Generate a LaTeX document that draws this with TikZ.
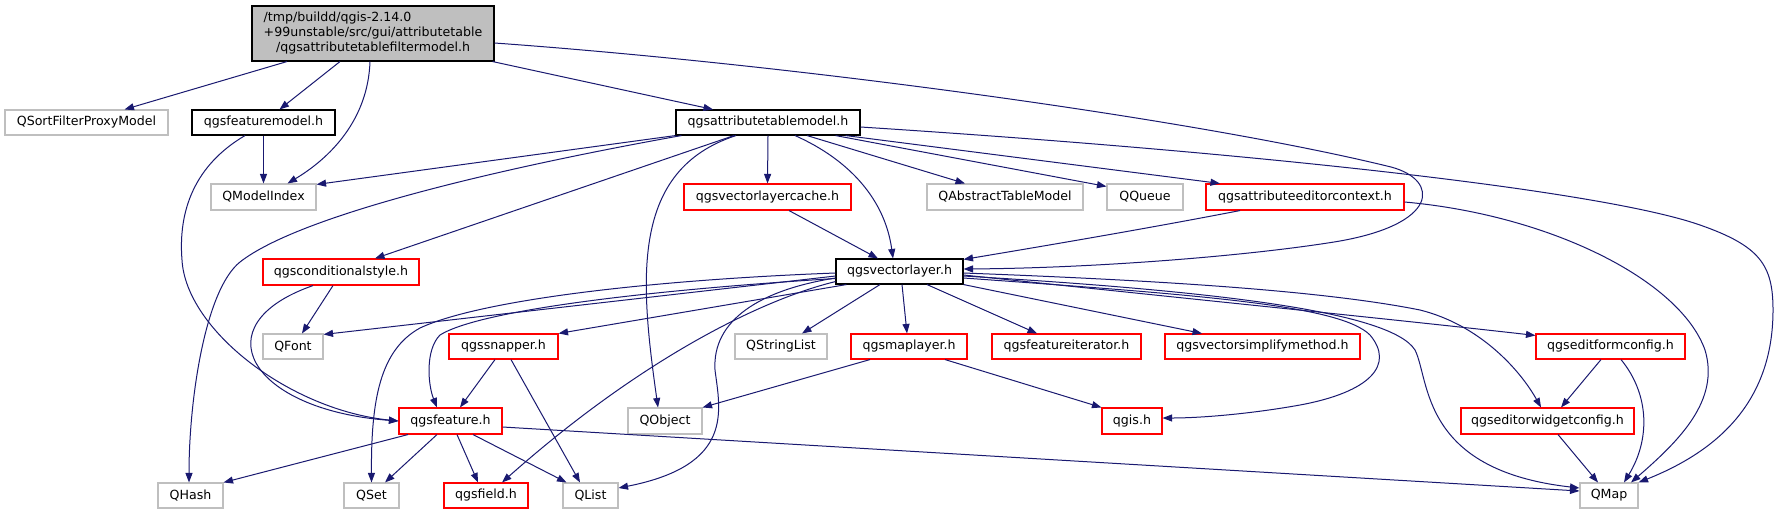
\documentclass[tikz,border=0pt]{standalone}
\usepackage{fontspec}
\setmainfont{DejaVu Sans}
\usetikzlibrary{arrows.meta}
\definecolor{edgecol}{HTML}{191970}
\definecolor{graycol}{HTML}{BFBFBF}
\tikzset{
 nbox/.style={draw, line width=1.1pt, inner sep=0pt, font=\fontsize{12.6}{15}\selectfont, text=black},
 gbox/.style={nbox, draw=graycol},
 rbox/.style={nbox, draw=red},
 kbox/.style={nbox, draw=black},
 rootbox/.style={nbox, draw=black, fill=graycol, align=center},
 edge/.style={draw=edgecol, line width=1pt, -{Triangle[length=9.5pt,width=7pt]}},
}
\newcommand\mknode[7]{%
 \pgfmathsetmacro\ndw{#5-#3}\pgfmathsetmacro\ndh{#6-#4}%
 \pgfmathsetmacro\ndx{(#3+#5)/2}\pgfmathsetmacro\ndy{(#4+#6)/2}%
 \node[#2, minimum width=\ndw pt, minimum height=\ndh pt] (#1) at (\ndx,\ndy) {#7};}
\begin{document}
\begin{tikzpicture}[x=1pt,y=-1pt]
\path[fill=white,use as bounding box] (0,0) rectangle (1779,515);
% nodes
\mknode{root}{rootbox}{252}{6}{494}{61}{\rlap{/tmp/buildd/qgis-2.14.0}\hphantom{+99unstable/src/gui/attributetable}\\+99unstable/src/gui/attributetable\\/qgsattributetablefiltermodel.h}
\mknode{qsfpm}{gbox}{5}{110}{168}{135}{QSortFilterProxyModel}
\mknode{fm}{kbox}{192}{110}{335}{135}{qgsfeaturemodel.h}
\mknode{atm}{kbox}{676}{110}{860}{135}{qgsattributetablemodel.h}
\mknode{qmi}{gbox}{211}{184}{316}{210}{QModelIndex}
\mknode{vlc}{rbox}{684}{184}{851}{210}{qgsvectorlayercache.h}
\mknode{qatm}{gbox}{927}{184}{1083}{210}{QAbstractTableModel}
\mknode{qq}{gbox}{1107}{184}{1183}{210}{QQueue}
\mknode{aec}{rbox}{1206}{184}{1404}{210}{qgsattributeeditorcontext.h}
\mknode{cs}{rbox}{263}{259}{419}{285}{qgsconditionalstyle.h}
\mknode{vl}{kbox}{836}{259}{963}{284}{qgsvectorlayer.h}
\mknode{qfont}{gbox}{263}{334}{323}{359}{QFont}
\mknode{sn}{rbox}{449}{334}{558}{359}{qgssnapper.h}
\mknode{qsl}{gbox}{735}{334}{827}{359}{QStringList}
\mknode{ml}{rbox}{851}{334}{967}{359}{qgsmaplayer.h}
\mknode{fi}{rbox}{992}{334}{1141}{359}{qgsfeatureiterator.h}
\mknode{vsm}{rbox}{1165}{334}{1360}{359}{qgsvectorsimplifymethod.h}
\mknode{efc}{rbox}{1536}{334}{1685}{359}{qgseditformconfig.h}
\mknode{feat}{rbox}{399}{408}{502}{434}{qgsfeature.h}
\mknode{qobj}{gbox}{628}{408}{702}{434}{QObject}
\mknode{qgis}{rbox}{1102}{408}{1162}{434}{qgis.h}
\mknode{ewc}{rbox}{1461}{408}{1634}{434}{qgseditorwidgetconfig.h}
\mknode{qhash}{gbox}{158}{483}{223}{508}{QHash}
\mknode{qset}{gbox}{344}{483}{399}{508}{QSet}
\mknode{field}{rbox}{444}{483}{528}{508}{qgsfield.h}
\mknode{qlist}{gbox}{563}{483}{618}{508}{QList}
\mknode{qmap}{gbox}{1580}{483}{1638}{508}{QMap}
% root edges
\draw[edge] ([xshift=-86pt]root.south) -- ([xshift=38pt]qsfpm.north);
\draw[edge] ([xshift=-33pt]root.south) -- ([xshift=16pt]fm.north);
\draw[edge] ([xshift=-3pt]root.south) .. controls (368,120) and (330,158) .. ([xshift=24pt]qmi.north);
\draw[edge] ([xshift=-2pt]root.south east) -- ([xshift=-55pt]atm.north);
\draw[edge] ([yshift=-9.5pt]root.east) .. controls (800,65) and (1200,120) .. (1391,167) .. controls (1440,180) and (1440,225) .. (1334,242) .. controls (1250,255.5) and (1100,268) .. ([yshift=2.5pt]vl.east);
% attributetablemodel edges
\draw[edge] (atm.south west) -- ([yshift=-1pt]qmi.north east);
\draw[edge] ([xshift=6pt]atm.south west) .. controls (500,168) and (300,215) .. (240,262) .. controls (205,290) and (189,400) .. ([xshift=-1.5pt]qhash.north);
\draw[edge] ([xshift=-34pt]atm.south) -- ([xshift=34pt]cs.north);
\draw[edge] ([xshift=-32pt]atm.south) .. controls (630,170) and (640,280) .. ([xshift=-7pt]qobj.north);
\draw[edge] (atm.south) -- (vlc.north);
\draw[edge] ([xshift=27pt]atm.south) .. controls (850,160) and (885,200) .. ([xshift=-6.5pt]vl.north);
\draw[edge] ([xshift=39pt]atm.south) -- ([xshift=-40pt]qatm.north);
\draw[edge] ([xshift=-25pt]atm.south east) -- ([yshift=-3pt]qq.north west);
\draw[edge] ([xshift=-15pt]atm.south east) -- ([xshift=-85pt]aec.north);
\draw[edge] ([yshift=-4.5pt]atm.east) .. controls (1250,152) and (1600,190) .. (1700,225) .. controls (1760,246) and (1773,265) .. (1773,310) .. controls (1773,400) and (1720,450) .. (qmap.north east);
% featuremodel edges
\draw[edge] (fm.south) -- (qmi.north);
\draw[edge] ([xshift=-18.5pt]fm.south) .. controls (195,165) and (178,210) .. (182,260) .. controls (186,330) and (290,410) .. (feat.west);
% conditionalstyle edges
\draw[edge] ([xshift=-8pt]cs.south) -- ([xshift=9pt]qfont.north);
\draw[edge] ([xshift=-28pt]cs.south) .. controls (200,325) and (250,410) .. (feat.west);
% vectorlayercache
\draw[edge] ([xshift=21.5pt]vlc.south) -- ([xshift=-21.5pt]vl.north);
% attributeeditorcontext
\draw[edge] ([xshift=-65pt]aec.south) .. controls (1150,228) and (1050,245) .. ([yshift=-1pt]vl.north east);
\draw[edge] ([yshift=-5pt]aec.east) .. controls (1550,215) and (1680,280) .. (1705,350) .. controls (1720,400) and (1680,440) .. ([xshift=22pt]qmap.north);
% vectorlayer edges
\draw[edge] ([yshift=-4.5pt]vl.west) -- ([yshift=-1pt]qfont.north east);
\draw[edge] ([yshift=-1.5pt]vl.west) .. controls (650,280) and (480,300) .. (420,328) .. controls (380,350) and (371,400) .. (qset.north);
\draw[edge] ([yshift=-7pt]vl.west) .. controls (650,290) and (480,310) .. (440,335) .. controls (425,350) and (428,385) .. ([xshift=-13.5pt]feat.north);
\draw[edge] ([xshift=11pt]vl.south west) -- (sn.north east);
\draw[edge] ([xshift=-19.5pt]vl.south) -- ([xshift=21pt]qsl.north);
\draw[edge] ([xshift=2.5pt]vl.south) -- ([xshift=-2pt]ml.north);
\draw[edge] ([xshift=27.5pt]vl.south) -- ([xshift=-29.5pt]fi.north);
\draw[edge] (vl.south east) -- ([xshift=-60.5pt]vsm.north);
\draw[edge] ([yshift=3pt]vl.south west) .. controls (760,300) and (640,360) .. ([xshift=16pt]field.north);
\draw[edge] ([yshift=-6.5pt]vl.west) .. controls (760,290) and (712,320) .. (715,370) .. controls (720,410) and (735,465) .. ([yshift=7.5pt]qlist.east);
\draw[edge] ([yshift=-6.5pt]vl.east) .. controls (1200,295) and (1340,305) .. (1370,335) .. controls (1395,365) and (1370,392) .. (1300,405) .. controls (1250,414) and (1200,418) .. ([yshift=3pt]qgis.east);
\draw[edge] ([yshift=-4.5pt]vl.east) .. controls (1200,290) and (1390,310) .. (1415,350) .. controls (1430,380) and (1420,470) .. ([yshift=7.5pt]qmap.west);
\draw[edge] ([yshift=-3.5pt]vl.east) .. controls (1200,300) and (1400,320) .. ([yshift=-2pt]efc.north west);
\draw[edge] ([yshift=-1.5pt]vl.east) .. controls (1150,280) and (1320,290) .. (1420,310) .. controls (1480,325) and (1520,370) .. ([xshift=-6.5pt]ewc.north);
% maplayer
\draw[edge] ([xshift=-39pt]ml.south) -- (qobj.north east);
\draw[edge] ([xshift=36pt]ml.south) -- (qgis.north west);
% snapper
\draw[edge] ([xshift=-8.5pt]sn.south) -- ([xshift=9.5pt]feat.north);
\draw[edge] ([xshift=7.5pt]sn.south) -- ([xshift=-10.5pt]qlist.north);
% feature
\draw[edge] ([xshift=-42.5pt]feat.south) -- (qhash.north east);
\draw[edge] ([xshift=-13.5pt]feat.south) -- ([xshift=13.5pt]qset.north);
\draw[edge] ([xshift=6.5pt]feat.south) -- ([xshift=-8pt]field.north);
\draw[edge] ([xshift=22.5pt]feat.south) -- ([xshift=-24pt]qlist.north);
\draw[edge] ([yshift=-6pt]feat.east) -- ([yshift=4.5pt]qmap.west);
% editformconfig
\draw[edge] ([xshift=-9.5pt]efc.south) -- ([xshift=13.5pt]ewc.north);
\draw[edge] ([xshift=10.5pt]efc.south) .. controls (1650,395) and (1650,440) .. ([xshift=15pt]qmap.north);
% editorwidgetconfig
\draw[edge] ([xshift=10.5pt]ewc.south) -- ([xshift=-11pt]qmap.north);
\end{tikzpicture}
\end{document}
